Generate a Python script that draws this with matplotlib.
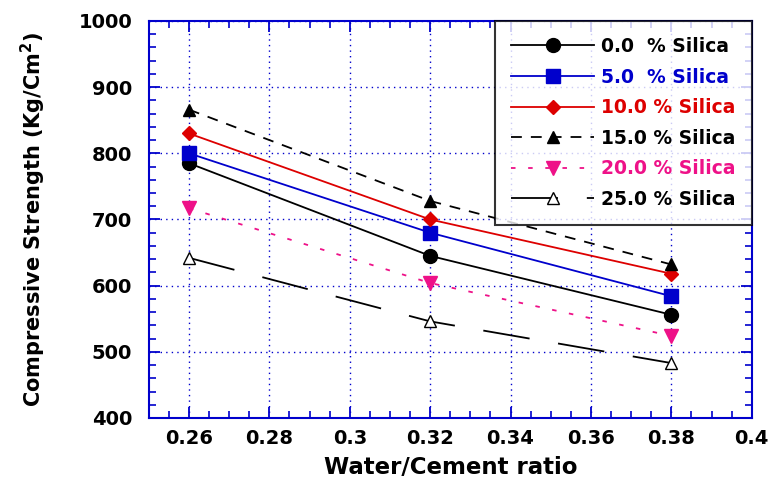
import matplotlib
matplotlib.use("Agg")
import matplotlib.pyplot as plt
from matplotlib.ticker import MultipleLocator

plt.rcParams['font.family'] = ['DejaVu Sans']
plt.rcParams['mathtext.default'] = 'bf'

wc_ratio = [0.26, 0.32, 0.38]
silica_0 = [785, 645, 556]
silica_5 = [800, 680, 584]
silica_10 = [830, 700, 618]
silica_15 = [866, 728, 632]
silica_20 = [717, 604, 524]
silica_25 = [642, 546, 483]
labels = ["0.0  % Silica", "5.0  % Silica", "10.0 % Silica",
          "15.0 % Silica", "20.0 % Silica", "25.0 % Silica"]

fig = plt.figure(figsize=(7.71, 4.83), dpi=100)
ax = fig.add_axes([0.193, 0.1346, 0.782, 0.822])

blue = '#0000cc'
pink = '#ee1188'
red = '#dd0000'

ax.plot(wc_ratio, silica_0, '-', color='black', marker='o', ms=10, lw=1.3, label=labels[0])
ax.plot(wc_ratio, silica_5, '-', color=blue, marker='s', ms=10, lw=1.3, label=labels[1])
ax.plot(wc_ratio, silica_10, '-', color=red, marker='D', ms=7, lw=1.3, label=labels[2])
ax.plot(wc_ratio, silica_15, color='black', marker='^', ms=9, lw=1.3, dashes=(6, 5), label=labels[3])
ax.plot(wc_ratio, silica_20, color=pink, marker='v', ms=10, lw=1.3, dashes=(2.5, 7), label=labels[4])
ax.plot(wc_ratio, silica_25, color='black', marker='^', ms=9, mfc='white', mec='black', lw=1.3,
        dashes=(26, 16), label=labels[5])

ax.set_xlim(0.25, 0.4)
ax.set_ylim(400, 1000)
ax.xaxis.set_minor_locator(MultipleLocator(0.005))
ax.yaxis.set_major_locator(MultipleLocator(100))
ax.yaxis.set_minor_locator(MultipleLocator(20))
ax.set_xticks([0.26, 0.28, 0.3, 0.32, 0.34, 0.36, 0.38, 0.4])
ax.set_xticklabels(['0.26', '0.28', '0.3', '0.32', '0.34', '0.36', '0.38', '0.4'])

ax.grid(True, which='major', color=blue, linestyle=(0, (1, 3)), lw=1.0)
ax.tick_params(which='both', direction='in', top=True, right=True, color=blue)
ax.tick_params(which='major', length=8, width=1.3, labelsize=14)
ax.tick_params(axis='x', which='major', pad=8)
ax.tick_params(axis='y', which='major', pad=12)
ax.tick_params(which='minor', length=5, width=1.2)
for lab in ax.get_xticklabels() + ax.get_yticklabels():
    lab.set_fontweight('bold')
for sp in ax.spines.values():
    sp.set_color(blue)
    sp.set_linewidth(1.5)

ax.set_xlabel('Water/Cement ratio', fontsize=16.5, fontweight='bold', labelpad=6)
ax.set_ylabel('Compressive Strength (Kg/Cm$^{2}$)', fontsize=15, fontweight='bold', labelpad=22)

leg = ax.legend(loc='upper right', prop={'weight': 'bold', 'size': 13.5},
                frameon=True, fancybox=False, edgecolor='black', handlelength=4.4,
                handletextpad=0.4, borderaxespad=0.0, labelspacing=0.62, borderpad=0.85)
leg.get_frame().set_linewidth(1.5)
colors = ['black', blue, red, 'black', pink, 'black']
for t, c in zip(leg.get_texts(), colors):
    t.set_color(c)

fig.savefig('out.png', dpi=100)
